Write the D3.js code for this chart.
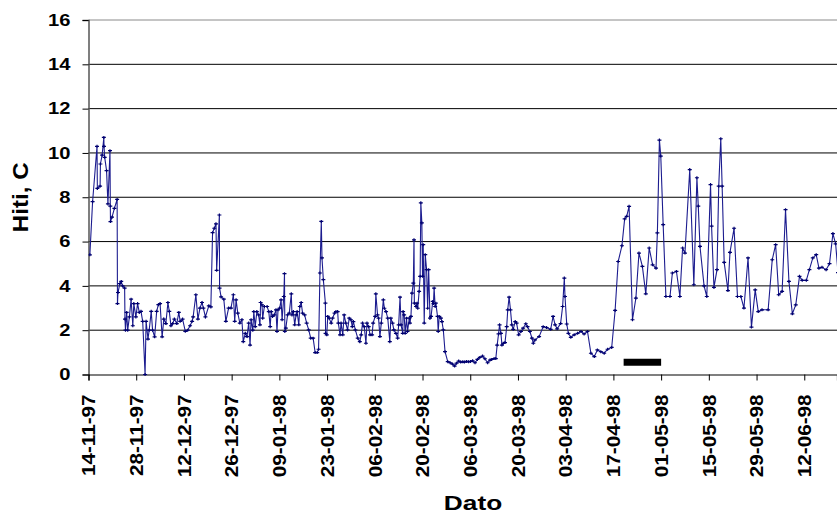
<!DOCTYPE html>
<html>
<head>
<meta charset="utf-8">
<script src="https://cdn.jsdelivr.net/npm/d3@7"></script>
<style>
  body { margin: 0; background: #fff; }
  text { font-family: "Liberation Sans", Arial, sans-serif; font-weight: bold; fill: #000; }
</style>
</head>
<body>
<svg width="837" height="515"></svg>
<script>
// days since 14-11-97 for each reading
const dayNum = [
  0.4, 1.2, 2.5, 2.6, 3.4, 3.5, 4.0, 4.5, 4.55, 4.75, 5.3, 5.7, 6.3, 6.4, 6.45, 6.9, 7.6, 8.4, 8.5, 8.65,
  9.2, 9.6, 10.0, 10.6, 10.7, 10.85, 11.2, 11.5, 12.0, 12.5, 13.0, 13.3, 13.9, 14.4, 14.9, 15.4, 15.9, 16.6, 16.9, 17.45,
  17.8, 18.4, 18.8, 19.4, 20.0, 20.5, 21.0, 21.6, 22.1, 22.7, 23.3, 23.7, 24.2, 24.7, 25.2, 25.9, 26.5, 26.9, 27.6, 28.4,
  29.1, 29.8, 30.4, 30.7, 31.5, 32.1, 32.7, 33.3, 33.7, 34.3, 35.3, 35.9, 36.4, 36.9, 37.4, 37.6, 38.4, 38.45, 38.9, 39.7,
  40.3, 41.1, 41.8, 42.5, 42.9, 43.3, 43.8, 44.4, 45.0, 45.4, 46.0, 46.5, 47.0, 47.4, 47.7, 48.2, 48.5, 48.9, 49.4, 49.9,
  50.3, 50.5, 50.9, 51.1, 51.6, 52.4, 52.9, 53.3, 53.6, 54.0, 54.5, 55.0, 55.3, 55.6, 56.1, 56.5, 56.8, 57.3, 57.5, 57.6,
  57.9, 58.4, 58.9, 59.5, 59.7, 60.1, 60.5, 60.9, 61.2, 61.7, 62.0, 62.4, 62.8, 63.4, 64.0, 64.6, 65.2, 65.9, 66.5, 67.1,
  67.5, 67.9, 68.3, 68.5, 68.9, 69.5, 69.55, 69.9, 70.2, 70.6, 71.2, 71.6, 72.2, 72.6, 73.1, 73.3, 73.8, 74.1, 74.6, 75.0,
  75.5, 76.0, 76.5, 77.0, 77.4, 77.7, 78.3, 79.0, 79.6, 80.0, 80.4, 80.9, 81.4, 81.7, 82.2, 82.6, 83.2, 83.5, 84.1, 84.3,
  84.8, 85.1, 85.5, 85.9, 86.5, 86.8, 87.3, 87.8, 88.4, 88.7, 89.2, 89.6, 90.2, 90.7, 91.0, 91.4, 91.7, 92.2, 92.3, 92.6,
  92.9, 93.3, 93.6, 94.1, 94.3, 94.6, 94.9, 95.3, 95.5, 95.6, 96.1, 96.4, 96.6, 97.0, 97.3, 97.5, 97.8, 98.0, 98.2, 98.5,
  98.8, 99.2, 99.5, 99.8, 100.2, 100.5, 101.0, 101.2, 101.4, 101.7, 101.9, 102.4, 102.6, 102.9, 103.4, 103.7, 104.1, 104.6, 105.4, 106.1,
  106.8, 107.4, 108.0, 108.6, 109.2, 109.8, 110.3, 110.9, 111.5, 112.1, 112.7, 113.4, 114.1, 114.8, 115.6, 116.3, 117.1, 117.8, 118.3, 119.0,
  119.5, 119.9, 120.3, 120.6, 121.0, 121.3, 121.7, 122.2, 122.7, 123.0, 123.4, 123.8, 124.2, 124.6, 125.2, 125.6, 126.2, 126.9, 127.5, 128.3,
  128.8, 129.5, 130.1, 130.5, 131.0, 132.2, 133.4, 134.4, 135.6, 136.3, 136.9, 137.5, 138.5, 139.1, 139.6, 139.8, 140.3, 140.8, 141.5, 142.5,
  143.5, 144.5, 145.4, 146.4, 147.4, 148.4, 149.3, 150.3, 151.3, 152.3, 153.5, 154.5, 155.4, 156.5, 157.3, 157.9, 158.6, 159.6, 160.6, 161.5,
  162.5, 163.5, 164.5, 165.5, 166.5, 166.9, 167.5, 167.9, 168.6, 169.4, 170.6, 171.3, 172.5, 173.5, 174.3, 175.0, 176.4, 177.6, 178.5, 178.9,
  179.4, 180.6, 181.4, 182.5, 182.8, 183.5, 184.4, 184.9, 185.5, 185.9, 186.5, 187.6, 188.2, 189.4, 190.4, 191.4, 192.3, 193.5, 194.5, 195.6,
  196.5, 197.6, 199.4, 200.6, 201.6, 202.5, 203.5, 204.5, 205.5, 206.5, 207.5, 208.6, 209.4, 210.6, 211.5, 212.5, 213.5, 214.3, 215.2, 216.4,
  217.4, 218.4, 219.2, 219.9
];

// temperature readings (Hiti, C)
const temp = [
  5.4, 7.8, 10.3, 8.4, 8.5, 9.5, 9.9, 10.7, 10.3, 9.8, 9.2, 7.7, 10.1, 7.6, 6.9, 7.1, 7.5, 7.9, 3.2, 3.7,
  4.1, 4.2, 4.0, 3.9, 2.5, 2.0, 2.8, 2.0, 2.6, 3.4, 2.2, 3.2, 2.6, 3.2, 2.8, 2.85, 2.4, 0.0, 2.4, 1.6,
  2.0, 2.85, 2.0, 1.7, 2.85, 3.15, 3.2, 1.7, 2.5, 2.3, 3.25, 2.85, 2.2, 2.3, 2.5, 2.3, 2.8, 2.4, 2.5, 1.95,
  2.0, 2.2, 2.4, 2.6, 3.6, 2.5, 3.0, 3.25, 3.0, 2.6, 3.1, 3.05, 6.4, 6.6, 6.8, 4.7, 7.2, 3.9, 3.5, 3.4,
  2.4, 3.0, 3.0, 3.6, 2.4, 3.37, 2.77, 2.32, 2.47, 1.48, 1.86, 1.71, 2.32, 1.33, 2.47, 2.0, 2.84, 2.16, 2.84, 2.69,
  2.24, 3.25, 3.14, 2.54, 3.07, 3.07, 2.84, 2.16, 2.84, 2.62, 2.69, 2.92, 1.94, 2.92, 3.0, 3.37, 2.47, 3.52, 4.55, 1.94,
  2.09, 2.69, 2.77, 3.64, 2.69, 2.84, 2.24, 2.69, 2.84, 2.24, 3.07, 3.25, 2.77, 2.69, 2.32, 2.01, 1.64, 1.64, 0.99, 0.99,
  1.14, 4.58, 6.91, 5.26, 4.28, 3.22, 1.86, 1.79, 2.62, 2.54, 2.32, 2.54, 2.77, 2.84, 2.84, 2.32, 1.79, 2.32, 1.79, 2.69,
  2.32, 2.01, 2.54, 2.47, 2.16, 2.39, 2.01, 1.64, 1.48, 1.79, 2.32, 2.16, 1.41, 2.32, 2.16, 1.79, 1.79, 2.32, 2.62, 3.64,
  2.69, 2.54, 1.71, 2.32, 3.37, 2.99, 2.84, 2.54, 1.48, 2.54, 2.32, 2.01, 1.86, 1.64, 2.24, 3.49, 2.24, 1.86, 2.84, 2.69,
  1.86, 2.54, 1.94, 2.54, 2.32, 2.62, 3.67, 4.12, 6.08, 3.22, 3.07, 3.22, 2.99, 3.75, 4.43, 7.75, 6.84, 4.43, 5.86, 2.32,
  5.41, 4.73, 2.99, 4.73, 2.54, 2.62, 3.3, 3.2, 3.9, 3.07, 3.22, 2.62, 1.94, 2.62, 2.54, 2.39, 2.01, 1.03, 0.58, 0.53,
  0.47, 0.38, 0.51, 0.61, 0.56, 0.57, 0.56, 0.59, 0.57, 0.59, 0.62, 0.53, 0.68, 0.77, 0.83, 0.71, 0.53, 0.65, 0.68, 0.72,
  0.72, 1.33, 1.83, 2.24, 1.86, 1.33, 1.41, 1.44, 2.16, 2.92, 3.49, 2.92, 2.24, 2.04, 2.39, 2.32, 1.79, 1.94, 2.09, 2.29,
  2.16, 1.94, 1.64, 1.41, 1.56, 1.71, 2.16, 2.12, 2.04, 2.62, 2.24, 2.06, 2.3, 3.07, 4.35, 3.52, 2.28, 1.86, 1.68, 1.79,
  1.86, 1.94, 1.83, 1.94, 0.96, 0.81, 1.11, 1.03, 0.96, 1.14, 1.22, 2.89, 5.1, 5.81, 7.02, 7.14, 7.59, 2.47, 3.45, 5.48,
  4.88, 3.64, 5.71, 4.95, 4.8, 6.39, 10.58, 9.86, 6.76, 3.52, 3.52, 4.58, 4.65, 3.52, 5.71, 5.48, 9.25, 4.05, 8.88, 7.6,
  5.78, 4.0, 3.52, 8.57, 6.7, 3.93, 4.73, 8.5, 10.64, 8.5, 5.06, 3.79, 5.51, 6.6, 3.52, 3.52, 3.0, 5.26, 2.14, 3.82,
  2.84, 2.92, 2.92, 5.18, 5.86, 3.6, 3.75, 7.44, 4.2, 2.74, 3.14, 4.43, 4.25, 4.25, 4.73, 5.26, 5.41, 4.8, 4.84, 4.73,
  5.0, 6.36, 5.9, 4.6
];

// x ticks every 14 days
const tickDays = [0, 14, 28, 42, 56, 70, 84, 98, 112, 126, 140, 154, 168, 182, 196, 210];
const tickLabels = ['14-11-97', '28-11-97', '12-12-97', '26-12-97', '09-01-98', '23-01-98', '06-02-98', '20-02-98',
  '06-03-98', '20-03-98', '03-04-98', '17-04-98', '01-05-98', '15-05-98', '29-05-98', '12-06-98'];
const yTicks = [0, 2, 4, 6, 8, 10, 12, 14, 16];

// black bar marking a period (days)
const barPeriod = [157, 168];
const barLevel = 0.55;

const svg = d3.select('svg');
const width = +svg.attr('width');

const margin = { top: 20, left: 88.5, bottom: 140.5 };
const plotBottom = 515 - margin.bottom;

const xScale = d3.scaleLinear().domain([0, 219.6]).range([margin.left, width]);
const yScale = d3.scaleLinear().domain([0, 16]).range([plotBottom, margin.top]);

// horizontal gridlines
svg.append('g')
  .selectAll('line')
  .data(yTicks.filter(d => d > 0))
  .join('line')
  .attr('x1', margin.left).attr('x2', width)
  .attr('y1', d => yScale(d)).attr('y2', d => yScale(d))
  .attr('stroke', d => d === 16 ? '#8a8a8a' : '#000')
  .attr('stroke-width', 1);

// y axis
const yAxis = d3.axisLeft(yScale).tickValues(yTicks).tickSize(6).tickPadding(12);
const yG = svg.append('g')
  .attr('transform', `translate(${margin.left},0)`)
  .call(yAxis);
yG.select('.domain').attr('stroke', '#555').attr('stroke-width', 1.5);
yG.selectAll('.tick line').attr('stroke', '#000');
yG.selectAll('.tick text')
  .style('font-size', '16.5px')
  .attr('fill', '#000');

// x axis
const xAxis = d3.axisBottom(xScale).tickValues(tickDays).tickSize(6).tickFormat((d, i) => tickLabels[i]);
const xG = svg.append('g')
  .attr('transform', `translate(0,${plotBottom})`)
  .call(xAxis);
xG.select('.domain').attr('stroke', '#000').attr('stroke-width', 1.2);
xG.selectAll('.tick line').attr('stroke', '#000');
xG.selectAll('.tick text')
  .style('font-size', '17.5px')
  .attr('fill', '#000')
  .attr('text-anchor', 'end')
  .attr('transform', 'rotate(-90)')
  .attr('x', -20)
  .attr('y', 0)
  .attr('dy', '0.36em');

// axis titles
svg.append('text')
  .attr('class', 'ytitle')
  .attr('transform', `translate(28,${(margin.top + plotBottom) / 2}) rotate(-90)`)
  .attr('text-anchor', 'middle')
  .style('font-size', '22px')
  .text('Hiti, C');

svg.append('text')
  .attr('class', 'xtitle')
  .attr('x', 473)
  .attr('y', 510)
  .attr('text-anchor', 'middle')
  .style('font-size', '21px')
  .text('Dato');

// widen glyphs a little, the original fonts run wide
const stretch = (sel, k) => sel.each(function() {
  const len = this.getComputedTextLength();
  d3.select(this).attr('textLength', len * k).attr('lengthAdjust', 'spacingAndGlyphs');
});
stretch(yG.selectAll('.tick text'), 1.22);
stretch(xG.selectAll('.tick text'), 1.18);
stretch(svg.select('.ytitle'), 1.1);
stretch(svg.select('.xtitle'), 1.25);

// data series
const data = dayNum.map((d, i) => ({ day: d, t: temp[i] }));

const plot = svg.append('g');
svg.append('clipPath').attr('id', 'clip')
  .append('rect')
  .attr('x', margin.left).attr('y', 0)
  .attr('width', width - margin.left).attr('height', plotBottom + 2);
plot.attr('clip-path', 'url(#clip)');

const line = d3.line().x(d => xScale(d.day)).y(d => yScale(d.t));
plot.append('path')
  .datum(data)
  .attr('fill', 'none')
  .attr('stroke', '#1c1c8f')
  .attr('stroke-width', 1.1)
  .attr('d', line);

// small plus markers
plot.append('g')
  .selectAll('path')
  .data(data)
  .join('path')
  .attr('d', d => {
    const x = xScale(d.day), y = yScale(d.t);
    return `M${x - 2},${y}H${x + 2}M${x},${y - 1.5}V${y + 1.5}`;
  })
  .attr('stroke', '#000070')
  .attr('stroke-width', 1.2);

// period bar
svg.append('line')
  .attr('x1', xScale(barPeriod[0])).attr('x2', xScale(barPeriod[1]))
  .attr('y1', yScale(barLevel)).attr('y2', yScale(barLevel))
  .attr('stroke', '#000')
  .attr('stroke-width', 7);
</script>
</body>
</html>
